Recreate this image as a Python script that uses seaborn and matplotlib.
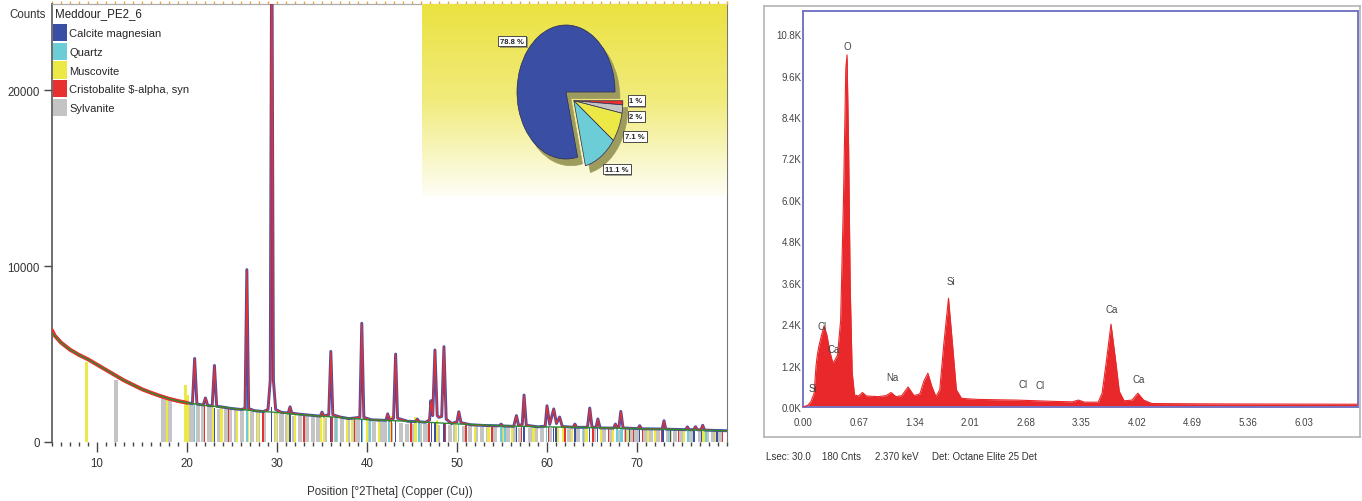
import matplotlib
matplotlib.use("Agg")
import matplotlib.pyplot as plt
import matplotlib.patches as mpatches
import matplotlib.patheffects as pe
from matplotlib.ticker import MultipleLocator
from matplotlib.colors import LinearSegmentedColormap
import numpy as np
import pandas as pd
import seaborn as sns

sns.set_style("white")
plt.rcParams['font.family'] = ['Liberation Sans', 'DejaVu Sans']

# ---- XRD pattern (left) ----
sample_name = "Meddour_PE2_6"
phase_names = ["Calcite magnesian", "Quartz", "Muscovite", "Cristobalite $-alpha, syn", "Sylvanite"]
phase_colors = ["#3a4ea3", "#6ccdd6", "#ece845", "#e8302e", "#c4c4c4"]
phase_pct = [78.8, 11.1, 7.1, 1, 2]

xrd_theta = [5.0, 5.3, 6.0, 7.0, 8.0, 9.0, 10.0, 11.0, 12.0, 13.0, 14.0, 15.0, 16.0, 17.0, 18.0, 19.0,
             20.0, 20.6, 20.85, 21.1, 21.8, 22.05, 22.3, 22.8, 23.05, 23.3, 24.0, 25.0, 26.0, 26.45,
             26.65, 26.85, 27.5, 28.5, 29.0, 29.25, 29.42, 29.6, 29.85, 30.5, 31.25, 31.45, 31.65,
             32.5, 33.5, 34.8, 35.0, 35.2, 35.75, 35.98, 36.2, 37.0, 38.0, 39.2, 39.42, 39.65, 40.5,
             42.1, 42.3, 42.5, 42.95, 43.18, 43.4, 44.5, 45.4, 45.6, 45.8, 46.5, 46.95, 47.1, 47.3,
             47.55, 47.8, 48.0, 48.3, 48.55, 48.8, 49.4, 50.0, 50.2, 50.45, 51.5, 53.0, 54.7, 54.9,
             55.1, 56.3, 56.6, 56.85, 57.25, 57.45, 57.7, 59.0, 59.8, 60.0, 60.3, 60.75, 61.05, 61.4,
             61.7, 62.9, 63.1, 63.3, 64.5, 64.75, 65.0, 65.45, 65.65, 65.9, 67.4, 67.6, 67.8, 68.0,
             68.2, 68.45, 70.1, 70.3, 70.5, 72.8, 73.0, 73.2, 75.4, 75.6, 75.8, 76.3, 76.5, 76.7,
             77.1, 77.3, 77.5, 78.5, 80.0]
xrd_counts = [6350, 6050, 5650, 5250, 4950, 4700, 4400, 4100, 3800, 3500, 3250, 3000, 2800, 2620, 2460, 2330,
              2230, 2180, 4750, 2160, 2100, 2500, 2080, 2050, 4350, 2030, 1980, 1900, 1850, 1900,
              9800, 1900, 1780, 1730, 1850, 3500, 31000, 3500, 1850, 1680, 1650, 2000, 1640,
              1580, 1530, 1470, 1700, 1480, 1550, 5150, 1550, 1420, 1330, 1400, 6750, 1400, 1260,
              1230, 1600, 1230, 1350, 5000, 1350, 1180, 1160, 1300, 1150, 1120, 1250, 2350, 1500,
              5230, 1500, 1400, 1450, 5420, 1300, 1050, 1150, 1720, 1100, 980, 940, 920, 1020,
              910, 890, 1500, 930, 1000, 2670, 950, 860, 900, 2060, 1000, 1880, 1050, 1420,
              880, 840, 1020, 830, 840, 1930, 850, 830, 1310, 800, 790, 1020, 800, 850,
              1740, 800, 760, 930, 750, 740, 1210, 730, 700, 860, 700, 700, 870, 700,
              690, 950, 680, 660, 640]

# fitted background
bg_theta = [5, 6, 7, 8, 9, 10, 11, 12, 13, 14, 15, 16, 17, 18, 19, 20, 22, 24, 26, 28, 30, 32, 34,
            36, 38, 40, 45, 50, 55, 60, 65, 70, 75, 80]
bg_counts = [6200, 5650, 5250, 4950, 4700, 4400, 4100, 3800, 3500, 3250, 3000, 2800, 2620, 2460, 2330,
             2230, 2080, 1980, 1850, 1750, 1680, 1580, 1500, 1430, 1350, 1270, 1170, 1030, 920, 860,
             820, 760, 700, 640]

# reference sticks per phase
sylvanite_pos = [12.1, 17.3, 17.6, 17.9, 18.1, 20.5, 21.2, 21.8, 22.4, 22.9, 23.6, 24.3, 24.8, 25.4, 26.1,
                 27.2, 27.9, 28.6, 29.9, 30.5, 31.1, 31.9, 32.6, 33.3, 34.0, 34.6, 35.3, 36.6, 37.2, 37.9,
                 38.5, 39.0, 40.1, 40.8, 41.5, 42.0, 42.7, 43.8, 44.4, 45.1, 45.9, 46.5, 47.9, 49.2, 49.8,
                 50.8, 51.4, 52.1, 52.8, 53.4, 54.2, 55.0, 55.7, 56.3, 57.0, 58.1, 58.8, 59.4, 60.3, 61.9,
                 62.5, 63.4, 64.1, 65.2, 66.3, 67.0, 67.9, 68.8, 69.5, 70.0, 70.9, 71.6, 72.3, 73.5, 74.2,
                 74.9, 76.0, 77.0, 77.8, 78.5, 79.2]
sylvanite_h = [3550, 2500, 2450, 2400, 2350, 2150, 2100, 2050, 2000, 1950, 1900, 1900, 1850, 1800, 1800,
               1750, 1700, 1650, 1650, 1600, 1550, 1500, 1500, 1450, 1400, 1400, 1350, 1350, 1300, 1300,
               1250, 1250, 1200, 1150, 1150, 1150, 1100, 1100, 1050, 1050, 1000, 1000, 980, 950, 950,
               920, 900, 900, 880, 880, 860, 850, 840, 830, 820, 810, 800, 800, 790, 770,
               760, 750, 750, 740, 730, 720, 710, 700, 700, 700, 690, 680, 680, 670, 660,
               660, 650, 640, 630, 620, 610]
muscovite_pos = [8.85, 17.75, 19.85, 20.1, 22.9, 23.85, 25.55, 26.8, 27.9, 29.9, 31.2, 32.0, 34.9, 35.2,
                 37.8, 38.3, 40.0, 41.3, 42.6, 45.4, 47.8, 49.9, 52.0, 53.5, 55.2, 56.1, 58.5, 61.2,
                 61.8, 62.8, 64.4, 66.0, 67.3, 69.0, 71.2, 72.0, 73.8, 75.2, 77.4, 78.8]
muscovite_h = [4550, 2450, 3250, 2700, 2000, 1950, 1850, 2050, 1750, 1700, 1620, 1570, 1450, 1480,
               1350, 1320, 1260, 1230, 1450, 1400, 1250, 1050, 960, 930, 900, 890, 850, 840,
               840, 830, 820, 800, 790, 760, 740, 740, 720, 700, 680, 660]
quartz_pos = [20.85, 26.65, 36.55, 39.47, 40.3, 42.45, 45.8, 50.15, 54.9, 55.35, 59.95, 64.05, 67.75,
              68.15, 68.35, 73.5, 75.65, 77.7]
quartz_h = [2150, 3000, 1400, 1300, 1260, 1220, 1150, 1030, 920, 910, 860, 820, 790,
            780, 780, 720, 700, 680]
cristobalite_pos = [21.95, 24.6, 28.45, 31.45, 33.0, 36.1, 38.6, 42.7, 44.9, 46.9, 48.65, 51.0, 53.9,
                    57.2, 60.2, 62.0, 65.1, 66.8, 68.7, 69.6, 70.6, 72.7, 74.6, 79.5]
cristobalite_h = [2550, 1900, 1730, 1640, 1550, 1420, 1340, 1230, 1160, 1120, 1100, 990, 930,
                  870, 860, 840, 810, 800, 780, 770, 760, 740, 710, 645]
calcite_pos = [23.06, 29.42, 31.45, 35.98, 39.42, 43.18, 47.15, 47.55, 48.55, 56.6, 57.45, 60.7, 61.0,
               63.1, 64.7, 65.6, 69.2, 70.25, 72.9, 73.7, 76.35, 77.15, 78.9]
calcite_h = [1950, 2000, 1600, 1400, 1280, 1200, 1120, 1110, 1100, 880, 870, 850, 850,
             830, 820, 810, 770, 760, 740, 730, 700, 690, 660]

xrd_xticks = [10, 20, 30, 40, 50, 60, 70]
xrd_yticks = [0, 10000, 20000]

# ---- EDS spectrum (right) ----
eds_kev = [0.0, 0.057, 0.095, 0.134, 0.157, 0.172, 0.19, 0.22, 0.253, 0.286, 0.324, 0.358, 0.382,
           0.415, 0.453, 0.487, 0.515, 0.53, 0.549, 0.568, 0.592, 0.62, 0.668, 0.716, 0.763, 0.906,
           1.0, 1.059, 1.12, 1.19, 1.264, 1.336, 1.407, 1.455, 1.503, 1.55, 1.6, 1.646, 1.694, 1.751,
           1.8, 1.846, 1.908, 2.1, 2.576, 3.05, 3.24, 3.316, 3.387, 3.554, 3.6, 3.65, 3.707, 3.76,
           3.807, 3.865, 3.96, 4.03, 4.1, 4.2, 4.96, 6.68]
eds_counts = [0, 50, 150, 400, 1200, 1500, 1750, 2050, 2350, 2100, 1600, 1280, 1350,
              1500, 2500, 6000, 9800, 10200, 7500, 3500, 1000, 350, 320, 420, 320, 300,
              330, 420, 300, 330, 580, 330, 380, 750, 980, 600, 300, 500, 1800, 3150,
              1800, 500, 250, 220, 200, 160, 150, 200, 140, 140, 400, 1300, 2400, 1400,
              450, 180, 200, 400, 200, 100, 90, 80]
eds_labels = ["Si", "Cl", "Ca", "O", "Na", "Si", "Cl", "Cl", "Ca", "Ca"]
eds_label_kev = [0.12, 0.224, 0.367, 0.53, 1.073, 1.78, 2.65, 2.85, 3.72, 4.046]
eds_label_counts = [540, 2360, 1690, 10450, 880, 3650, 660, 630, 2830, 800]
eds_xticks = [0.00, 0.67, 1.34, 2.01, 2.68, 3.35, 4.02, 4.69, 5.36, 6.03]
eds_yticks = [0, 1200, 2400, 3600, 4800, 6000, 7200, 8400, 9600, 10800]
eds_footer = ["Lsec: 30.0", "180 Cnts", "2.370 keV", "Det: Octane Elite 25 Det"]

W, H = 1362, 502
FS = 8.3


def px_box(x0, y0, x1, y1):
    return [x0 / W, 1 - y1 / H, (x1 - x0) / W, (y1 - y0) / H]


fig = plt.figure(figsize=(W / 100, H / 100), dpi=100)
fig.patch.set_facecolor("white")

# ================= left: XRD =================
ax = fig.add_axes(px_box(52, 5, 727, 443))

sticks = [
    (sylvanite_pos, sylvanite_h, phase_colors[4], 0.45),
    (muscovite_pos, muscovite_h, phase_colors[2], 0.26),
    (quartz_pos, quartz_h, phase_colors[1], 0.18),
    (cristobalite_pos, cristobalite_h, phase_colors[3], 0.15),
    (calcite_pos, calcite_h, phase_colors[0], 0.15),
]
for pos, hts, col, w in sticks:
    ax.bar(pos, hts, width=w, color=col, linewidth=0, zorder=1)

xrd = pd.DataFrame({"theta": xrd_theta, "counts": xrd_counts})
bg = pd.DataFrame({"theta": bg_theta, "counts": bg_counts})
# calculated (blue, under), observed (red), background (green)
sns.lineplot(data=xrd, x="theta", y="counts", ax=ax, color="#3c4fae", linewidth=2.1,
             estimator=None, zorder=3)
sns.lineplot(data=xrd[xrd["theta"] <= 20.4], x="theta", y="counts", ax=ax, color="#ec2f2b",
             linewidth=2.8, estimator=None, zorder=3.5)
sns.lineplot(data=xrd, x="theta", y="counts", ax=ax, color="#ec2f2b", linewidth=0.9,
             estimator=None, zorder=4)
sns.lineplot(data=bg, x="theta", y="counts", ax=ax, color="#2f8a2f", linewidth=1.0,
             estimator=None, zorder=5)

ax.set_xlim(5, 80)
ax.set_ylim(0, 24900)
ax.set_xticks(xrd_xticks)
ax.xaxis.set_minor_locator(MultipleLocator(1))
ax.set_yticks(xrd_yticks)
ax.tick_params(axis="x", which="major", length=7, width=1, color="#444", direction="out",
               pad=4, labelsize=FS, labelcolor="#333", bottom=True)
ax.tick_params(axis="x", which="minor", length=3, width=1, color="#444", direction="out", bottom=True)
ax.tick_params(axis="y", length=6, width=1, color="#444", direction="out", pad=3,
               labelsize=FS, labelcolor="#333", left=True)
ax.spines["bottom"].set_visible(False)
ax.spines["left"].set_color("#555")
ax.spines["left"].set_linewidth(1.2)
ax.spines["right"].set_color("#777")
ax.spines["top"].set_color("#aaa")
ax.set_xlabel("Position [°2Theta] (Copper (Cu))", fontsize=FS, color="#333", labelpad=11)
ax.set_ylabel("")
ax.text(-0.009, 0.977, "Counts", transform=ax.transAxes, ha="right", va="center",
        fontsize=FS, color="#333")

top = ax.secondary_xaxis("top")
top.set_xticks([])
top.xaxis.set_minor_locator(MultipleLocator(1))
top.tick_params(which="minor", length=2, width=1, color="#f0a43a", direction="out")
top.spines["top"].set_color("#aaa")

# legend: sample title + phase patches
ax.text(3 / 675, (443 - 14) / 438, sample_name, transform=ax.transAxes, ha="left", va="center",
        fontsize=FS, color="#222")
handles = [mpatches.Patch(facecolor=c, edgecolor="none", label=n)
           for n, c in zip(phase_names, phase_colors)]
ax.legend(handles=handles, loc="upper left", bbox_to_anchor=(0.002, (443 - 25) / 438),
          frameon=False, fontsize=8, handlelength=1.25, handleheight=2.0,
          handletextpad=0.2, labelspacing=0.14, borderpad=0.0, borderaxespad=0.0)

# pie inset with gradient background
bg_ax = fig.add_axes(px_box(422, 5, 727, 197))
grad_cmap = LinearSegmentedColormap.from_list("yl", ["#ebe241", "#f1eb7c", "#fefef6"])
bg_ax.imshow(np.linspace(0, 1, 256)[:, None], aspect="auto", cmap=grad_cmap,
             extent=[0, 1, 0, 1])
bg_ax.set_axis_off()

pie_ax = fig.add_axes(px_box(504.75, 9.25, 627.25, 176.75))
pie_idx = [3, 4, 2, 1, 0]  # clockwise from 3 o'clock: red, gray, yellow, cyan, blue
pie_vals = [phase_pct[i] for i in pie_idx]
pie_cols = [phase_colors[i] for i in pie_idx]
group_shift = (0.16, -0.13)
shadow_shift = (0.1, -0.1)
olive = "#9d9b5e"


def draw_pie(center, colors, show_main, edge):
    wedges, _ = pie_ax.pie(pie_vals, colors=colors, startangle=0, counterclock=False,
                           center=center, radius=1,
                           wedgeprops=dict(edgecolor=edge, linewidth=0.5))
    for k, w in enumerate(wedges):
        is_main = (k == len(wedges) - 1)
        w.set_visible(is_main == show_main)


draw_pie(shadow_shift, [olive] * 5, True, olive)
draw_pie((group_shift[0] + shadow_shift[0], group_shift[1] + shadow_shift[1]),
         [olive] * 5, False, olive)
draw_pie((0, 0), pie_cols, True, "#2a2a50")
draw_pie(group_shift, pie_cols, False, "#2a2a50")
pie_ax.set_xlim(-1.25, 1.25)
pie_ax.set_ylim(-1.25, 1.25)
pie_ax.set_aspect("auto")
pie_ax.set_axis_off()

label_xy = [(1.43, -0.13), (1.43, -0.36), (1.41, -0.66), (1.04, -1.15), (-1.1, 0.76)]
for v, (lx, ly) in zip(pie_vals, label_xy):
    t = pie_ax.text(lx, ly, f"{v:g} %", ha="center", va="center", fontsize=5.5, color="#222",
                    fontweight="bold",
                    bbox=dict(boxstyle="square,pad=0.25", fc="white", ec="#333", lw=0.6))
    t.get_bbox_patch().set_path_effects([pe.withSimplePatchShadow(offset=(1.2, -1.2),
                                                                  shadow_rgbFace="#666",
                                                                  alpha=0.6)])

# ================= right: EDS =================
frame_ax = fig.add_axes(px_box(764, 7, 1360, 438))
frame_ax.set_xticks([])
frame_ax.set_yticks([])
for s in frame_ax.spines.values():
    s.set_color("#b4b4b4")
    s.set_linewidth(1.2)

eds_ax = fig.add_axes(px_box(803, 12, 1358, 408))
eds = pd.DataFrame({"kev": eds_kev, "counts": eds_counts})
eds_ax.fill_between(eds["kev"], eds["counts"], color="#e8282a", linewidth=0, zorder=2)
sns.lineplot(data=eds, x="kev", y="counts", ax=eds_ax, color="#e8282a", linewidth=0.8,
             estimator=None, zorder=3)
eds_ax.set_xlim(0, 6.68)
eds_ax.set_ylim(0, 11470)
eds_ax.set_xticks(eds_xticks)
eds_ax.set_xticklabels([f"{v:.2f}" for v in eds_xticks])
eds_ax.set_yticks(eds_yticks)
eds_ax.set_yticklabels([f"{v / 1000:.1f}K" for v in eds_yticks])
eds_ax.tick_params(axis="both", length=0, labelsize=7, labelcolor="#444")
eds_ax.tick_params(axis="x", pad=7)
eds_ax.tick_params(axis="y", pad=1)
eds_ax.set_xlabel("")
eds_ax.set_ylabel("")
for s in eds_ax.spines.values():
    s.set_color("#7676c4")
    s.set_linewidth(1.4)

for lab, kx, ky in zip(eds_labels, eds_label_kev, eds_label_counts):
    eds_ax.text(kx, ky, lab, ha="center", va="center", fontsize=7, color="#444", zorder=4)

for txt, xp in zip(eds_footer, [766, 822, 875, 932]):
    fig.text(xp / W, 1 - 457 / H, txt, ha="left", va="center", fontsize=7, color="#333")

fig.savefig("out.png", dpi=100, facecolor="white")
